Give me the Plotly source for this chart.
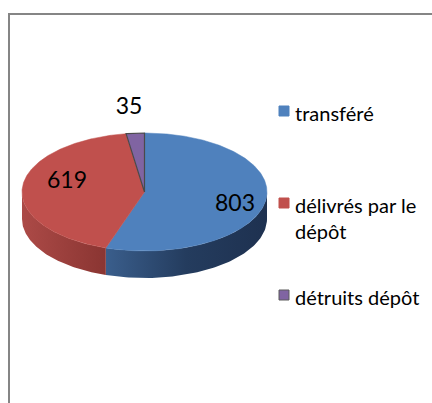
import numpy as np
import plotly.graph_objects as go

# ---- data ----
categories = ["transféré", "délivrés par le dépôt", "détruits dépôt"]
legend_text = ["transféré", "délivrés par le<br>dépôt", "détruits dépôt"]
values = [803, 619, 35]

# ---- style ----
top_colors = ["#4F81BD", "#C0504D", "#8064A2"]
side_scales = [
    [[0, "#3A5E8C"], [0.5, "#243C5E"], [1, "#1E3150"]],
    [[0, "#AC4A47"], [1, "#8A3532"]],
    [[0, "#6A5088"], [1, "#4E3A66"]],
]
outline = [None, None, "#4A4A4A"]
label_pos = [(235, 205), (67, 182), (129, 108)]
legend_y = [111, 203, 295]

CX, CY, RX, RY, DEPTH = 144.5, 192.0, 122.5, 59.0, 27.0
FONT = "Lato, 'Open Sans', sans-serif"


def pt(theta_deg, dy=0.0):
    t = np.radians(theta_deg)
    return CX + RX * np.sin(t), CY - RY * np.cos(t) + dy


fig = go.Figure()

total = float(sum(values))
bounds = np.concatenate([[0.0], np.cumsum(values) / total * 360.0])

# sides (front half of the cylinder: 90..270 deg)
for i, v in enumerate(values):
    a0, a1 = max(bounds[i], 90.0), min(bounds[i + 1], 270.0)
    if a1 <= a0:
        continue
    th = np.linspace(a0, a1, 80)
    xt, yt = pt(th)
    xb, yb = pt(th[::-1], DEPTH)
    xs = np.concatenate([xt, xb, xt[:1]])
    ys = np.concatenate([yt, yb, yt[:1]])
    fig.add_trace(go.Scatter(
        x=xs, y=ys, mode="lines", fill="toself",
        line=dict(width=0, color=side_scales[i][-1][1]),
        fillgradient=dict(type="horizontal", colorscale=side_scales[i]),
        hoverinfo="skip", showlegend=False))

# top faces
for i, v in enumerate(values):
    th = np.linspace(bounds[i], bounds[i + 1], max(4, int((bounds[i + 1] - bounds[i]) * 2)))
    xa, ya = pt(th)
    xs = np.concatenate([[CX], xa, [CX]])
    ys = np.concatenate([[CY], ya, [CY]])
    if outline[i]:
        ln = dict(width=1.2, color=outline[i])
    else:
        ln = dict(width=0.5, color=top_colors[i])
    fig.add_trace(go.Scatter(
        x=xs, y=ys, mode="lines", fill="toself", fillcolor=top_colors[i],
        line=ln, name=categories[i], hoverinfo="skip", showlegend=False))

# data labels
fig.add_trace(go.Scatter(
    x=[p[0] for p in label_pos], y=[p[1] for p in label_pos],
    mode="text", text=[str(v) for v in values],
    textfont=dict(family=FONT, size=23, color="#000000"),
    hoverinfo="skip", showlegend=False))

# custom legend
fig.add_trace(go.Scatter(
    x=[284] * len(categories), y=legend_y, mode="markers",
    marker=dict(symbol="square", size=10, color=top_colors,
                line=dict(width=1, color=["#4F81BD", "#C0504D", "#5A5A5A"])),
    hoverinfo="skip", showlegend=False))

annotations = []
for i, t in enumerate(legend_text):
    annotations.append(dict(
        x=293, y=legend_y[i] - 12, xref="x", yref="y", text=t,
        xanchor="left", yanchor="top", align="left", showarrow=False,
        font=dict(family=FONT, size=20, color="#000000")))

fig.update_layout(
    width=432, height=403,
    margin=dict(l=0, r=0, t=0, b=0),
    paper_bgcolor="white", plot_bgcolor="white",
    xaxis=dict(range=[0, 432], visible=False, fixedrange=True),
    yaxis=dict(range=[403, 0], visible=False, fixedrange=True),
    annotations=annotations,
    shapes=[dict(type="path", path="M 9,410 L 9,14 L 440,14",
                 xref="x", yref="y", line=dict(color="#858585", width=2))],
)

fig.write_html("out.html", config={"displayModeBar": False},
               post_script="document.body.style.margin='0';")
